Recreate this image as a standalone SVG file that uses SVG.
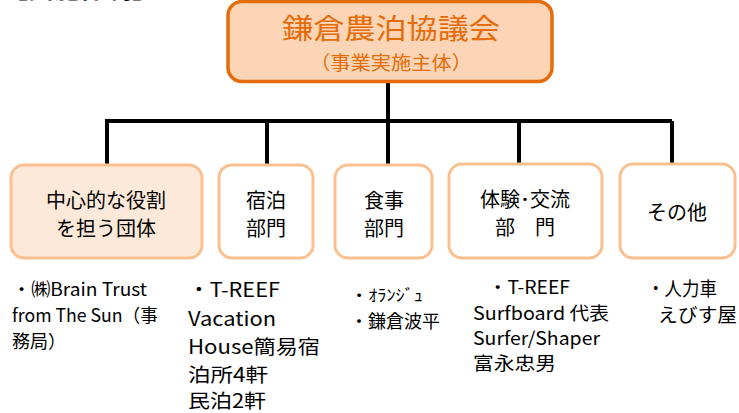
<svg xmlns="http://www.w3.org/2000/svg" width="739" height="413" viewBox="0 0 739 413">
<style>
text{font-family:"Noto Sans CJK JP","Liberation Sans",sans-serif;fill:#000}
.top{fill:#FBD5B5;stroke:#E46C0A;stroke-width:3.5}
.sub{fill:#FFFFFF;stroke:#FAC090;stroke-width:3}
.main{fill:#FDE9D9;stroke:#FAC090;stroke-width:3}
.bt{font-size:20px;text-anchor:middle}
.ot{fill:#E46C0A;text-anchor:middle}
.l18{font-size:18px}
.l19{font-size:19.5px}
.conn{stroke:#000;stroke-width:4;fill:none}
</style>
<text x="2" y="-2" style="font-size:26px;font-weight:bold">【実施体制】</text>
<g id="connectors">
<path class="conn" d="M388 82V121M107 121H672M107 119V165M267 121V165M388 121V165M519 121V163M672 121V163"/>
</g>
<g id="n0">
<rect class="top" x="228" y="1.5" width="324" height="80" rx="14"/>
<text class="ot" x="391" y="39" style="font-size:28px" textLength="218" lengthAdjust="spacingAndGlyphs">鎌倉農泊協議会</text>
<text class="ot" x="391" y="70" style="font-size:19px" textLength="162" lengthAdjust="spacingAndGlyphs">（事業実施主体）</text>
</g>
<g id="n1">
<rect class="main" x="11" y="165" width="191" height="93" rx="13"/>
<text class="bt" x="106" y="208">中心的な役割</text>
<text class="bt" x="106" y="236">を担う団体</text>
</g>
<g id="n2">
<rect class="sub" x="219" y="165" width="94" height="93" rx="13"/>
<text class="bt" x="266" y="208">宿泊</text>
<text class="bt" x="266" y="236">部門</text>
</g>
<g id="n3">
<rect class="sub" x="335" y="165" width="97" height="93" rx="13"/>
<text class="bt" x="384" y="208">食事</text>
<text class="bt" x="384" y="236">部門</text>
</g>
<g id="n4">
<rect class="sub" x="449" y="164" width="153" height="94" rx="13"/>
<text class="bt" x="525" y="207">体験･交流</text>
<text class="bt" x="525" y="235">部　門</text>
</g>
<g id="n5">
<rect class="sub" x="620" y="164" width="115" height="94" rx="13"/>
<text class="bt" x="677" y="220">その他</text>
</g>
<g id="t1">
<text x="12" y="296" class="l18" textLength="135" lengthAdjust="spacingAndGlyphs">・㈱Brain Trust</text>
<text x="12" y="322" class="l18" textLength="146" lengthAdjust="spacingAndGlyphs">from The Sun（事</text>
<text x="12" y="348" class="l18" textLength="54" lengthAdjust="spacingAndGlyphs">務局）</text>
</g>
<g id="t2">
<text x="188" y="297" class="l19" textLength="92" lengthAdjust="spacingAndGlyphs">・T-REEF</text>
<text x="188" y="326" class="l19" textLength="88" lengthAdjust="spacingAndGlyphs">Vacation</text>
<text x="188" y="354" class="l19" textLength="132" lengthAdjust="spacingAndGlyphs">House簡易宿</text>
<text x="188" y="382" class="l19" textLength="80" lengthAdjust="spacingAndGlyphs">泊所4軒</text>
<text x="188" y="408" class="l19" textLength="78" lengthAdjust="spacingAndGlyphs">民泊2軒</text>
</g>
<g id="t3">
<text x="350" y="301" style="font-size:16px" textLength="73" lengthAdjust="spacingAndGlyphs">・ｵﾗﾝｼﾞｭ</text>
<text x="350" y="328" style="font-size:18px" textLength="90" lengthAdjust="spacingAndGlyphs">・鎌倉波平</text>
</g>
<g id="t4">
<text x="488" y="294" class="l18" textLength="82" lengthAdjust="spacingAndGlyphs">・T-REEF</text>
<text x="473" y="320" class="l18" textLength="136" lengthAdjust="spacingAndGlyphs">Surfboard 代表</text>
<text x="473" y="345" class="l18" textLength="127" lengthAdjust="spacingAndGlyphs">Surfer/Shaper</text>
<text x="473" y="370" class="l18" textLength="83" lengthAdjust="spacingAndGlyphs">富永忠男</text>
</g>
<g id="t5">
<text x="647" y="296" style="font-size:19px" textLength="70" lengthAdjust="spacingAndGlyphs">・人力車</text>
<text x="658" y="322" style="font-size:19px" textLength="79" lengthAdjust="spacingAndGlyphs">えびす屋</text>
</g>
</svg>
